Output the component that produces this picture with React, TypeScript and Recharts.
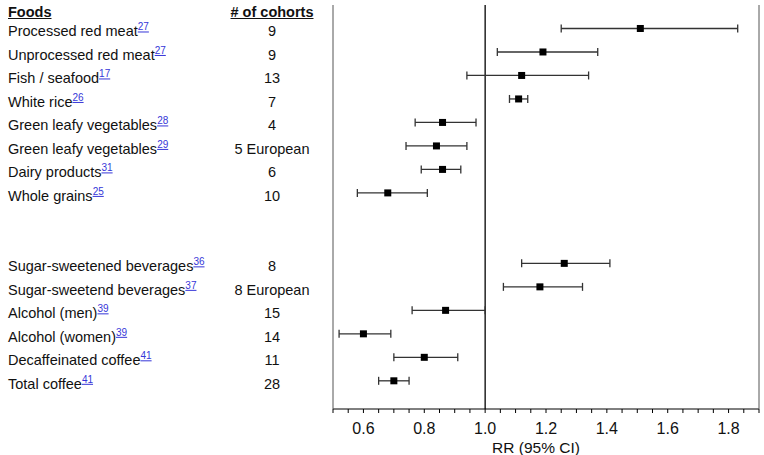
import React from "react";
import { ScatterChart, Scatter, XAxis, YAxis, ErrorBar, ReferenceLine } from "recharts";

// Rows of the table (empty strings are the blank separator rows)
const foods = [
  "Processed red meat",
  "Unprocessed red meat",
  "Fish / seafood",
  "White rice",
  "Green leafy vegetables",
  "Green leafy vegetables",
  "Dairy products",
  "Whole grains",
  "",
  "",
  "Sugar-sweetened beverages",
  "Sugar-sweetend beverages",
  "Alcohol (men)",
  "Alcohol (women)",
  "Decaffeinated coffee",
  "Total coffee",
];
const refs = ["27", "27", "17", "26", "28", "29", "31", "25", "", "", "36", "37", "39", "39", "41", "41"];
const cohorts = ["9", "9", "13", "7", "4", "5 European", "6", "10", "", "", "8", "8 European", "15", "14", "11", "28"];
const rr = [1.51, 1.19, 1.12, 1.11, 0.86, 0.84, 0.86, 0.68, null, null, 1.26, 1.18, 0.87, 0.6, 0.8, 0.7];
const ciLow = [1.25, 1.04, 0.94, 1.08, 0.77, 0.74, 0.79, 0.58, null, null, 1.12, 1.06, 0.76, 0.52, 0.7, 0.65];
const ciHigh = [1.83, 1.37, 1.34, 1.14, 0.97, 0.94, 0.92, 0.81, null, null, 1.41, 1.32, 1.0, 0.69, 0.91, 0.75];

const majorTicks = [0.6, 0.8, 1.0, 1.2, 1.4, 1.6, 1.8];
const allTicks = [
  0.5, 0.55, 0.6, 0.65, 0.7, 0.75, 0.8, 0.85, 0.9, 0.95, 1.0, 1.05, 1.1, 1.15, 1.2, 1.25, 1.3, 1.35, 1.4,
  1.45, 1.5, 1.55, 1.6, 1.65, 1.7, 1.75, 1.8, 1.85, 1.9,
];

const FONT = "'Liberation Sans', Arial, Helvetica, sans-serif";

const data = foods
  .map((food, i) => ({
    slot: i,
    food,
    rr: rr[i],
    err: rr[i] == null ? null : [(rr[i] as number) - (ciLow[i] as number), (ciHigh[i] as number) - (rr[i] as number)],
  }))
  .filter((d) => d.rr != null);

const rowTicks = data.map((d) => d.slot);

const FoodTick = (props: any) => {
  const { y, payload } = props;
  const i = payload.value as number;
  const base = y + 8;
  return (
    <g>
      <text x={8} y={base} fontSize={14.5} fill="#111" fontFamily={FONT}>
        {foods[i]}
        <tspan fill="#3636d8" fontSize={10} dy={-6} textDecoration="underline">
          {refs[i]}
        </tspan>
      </text>
      <text x={272} y={base} fontSize={14.5} fill="#111" fontFamily={FONT} textAnchor="middle">
        {cohorts[i]}
      </text>
    </g>
  );
};

const SquareDot = (props: any) => {
  const { cx, cy } = props;
  if (cx == null || cy == null) return null;
  return <rect x={cx - 3.5} y={cy - 3.5} width={7} height={7} fill="#000" />;
};

export default function App() {
  return (
    <div style={{ position: "absolute", left: 0, top: 0, width: 764, height: 455, background: "#fff" }}>
      <ScatterChart width={764} height={455} margin={{ top: 5, right: 4, bottom: 0, left: 0 }}>
        <XAxis
          xAxisId="top"
          orientation="top"
          type="number"
          dataKey="rr"
          domain={[0.5, 1.9]}
          height={0}
          tick={false}
          tickLine={false}
          axisLine={{ stroke: "#555" }}
        />
        <XAxis
          type="number"
          dataKey="rr"
          domain={[0.5, 1.9]}
          ticks={allTicks}
          interval={0}
          allowDataOverflow
          height={46}
          tickSize={4}
          tickMargin={10}
          tickFormatter={(v: number) => (majorTicks.some((m) => Math.abs(m - v) < 1e-6) ? v.toFixed(1) : "")}
          tick={{ fontSize: 16, fill: "#111", fontFamily: FONT }}
          axisLine={{ stroke: "#000" }}
          tickLine={{ stroke: "#000" }}
          label={{
            value: "RR (95% CI)",
            position: "insideBottom",
            offset: 2,
            dx: -10,
            style: { fontSize: 15.5, fill: "#111", fontFamily: FONT },
          }}
        />
        <YAxis
          type="number"
          dataKey="slot"
          domain={[-1, 16.2]}
          reversed
          ticks={rowTicks}
          interval={0}
          width={333}
          tickLine={false}
          axisLine={{ stroke: "#555" }}
          tick={<FoodTick />}
          allowDataOverflow
        />
        <YAxis
          yAxisId="right"
          orientation="right"
          type="number"
          domain={[0, 1]}
          width={1}
          tick={false}
          tickLine={false}
          axisLine={{ stroke: "#555" }}
        />
        <ReferenceLine x={1} stroke="#000" strokeWidth={1.3} />
        <Scatter data={data} dataKey="rr" shape={<SquareDot />} isAnimationActive={false}>
          <ErrorBar dataKey="err" direction="x" width={4} stroke="#333" strokeWidth={1.3} />
        </Scatter>
      </ScatterChart>
      <div
        style={{
          position: "absolute",
          left: 8,
          top: 4,
          fontFamily: FONT,
          fontSize: 14.5,
          lineHeight: "16px",
          fontWeight: "bold",
          textDecoration: "underline",
          color: "#111",
        }}
      >
        Foods
      </div>
      <div
        style={{
          position: "absolute",
          left: 272,
          top: 4,
          transform: "translateX(-50%)",
          whiteSpace: "nowrap",
          fontFamily: FONT,
          fontSize: 14.5,
          lineHeight: "16px",
          fontWeight: "bold",
          textDecoration: "underline",
          color: "#111",
        }}
      >
        # of cohorts
      </div>
    </div>
  );
}
